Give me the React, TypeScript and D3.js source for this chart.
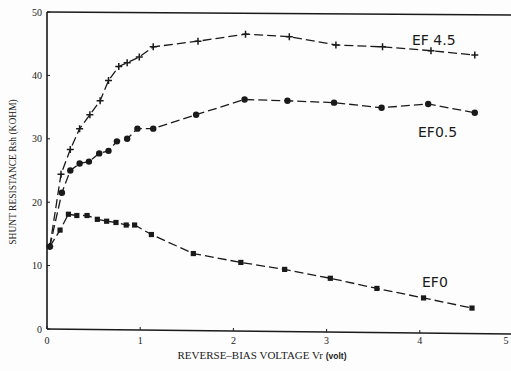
import React from "react";
import * as d3 from "d3";

// reverse-bias voltage (V) and shunt resistance (kOhm)
const ef45V = [0.03, 0.15, 0.25, 0.35, 0.46, 0.57, 0.66, 0.77, 0.86, 0.99, 1.14, 1.62, 2.13, 2.6, 3.1, 3.6, 4.12, 4.59];
const ef45R = [13, 24.4, 28.3, 31.6, 33.8, 36.0, 39.2, 41.4, 42.0, 42.9, 44.5, 45.4, 46.5, 46.1, 44.8, 44.5, 43.9, 43.2];

const ef05V = [0.03, 0.16, 0.25, 0.35, 0.45, 0.56, 0.66, 0.75, 0.86, 0.97, 1.14, 1.6, 2.12, 2.58, 3.08, 3.59, 4.09, 4.59];
const ef05R = [13, 21.5, 25.0, 26.1, 26.4, 27.7, 28.1, 29.6, 30.0, 31.6, 31.6, 33.8, 36.2, 36.0, 35.7, 34.9, 35.5, 34.1];

const ef0V = [0.03, 0.14, 0.23, 0.32, 0.43, 0.54, 0.64, 0.74, 0.85, 0.94, 1.12, 1.57, 2.08, 2.55, 3.04, 3.54, 4.04, 4.56];
const ef0R = [13, 15.6, 18.1, 17.9, 17.9, 17.3, 17.0, 16.8, 16.4, 16.4, 14.9, 11.9, 10.5, 9.4, 8.0, 6.4, 4.9, 3.3];

const xTicks = [0, 1, 2, 3, 4, 5];
const yTicks = [0, 10, 20, 30, 40, 50];

const W = 511;
const H = 371;

const x = d3.scaleLinear().domain([0, 5]).range([47, 513]);
const y = d3.scaleLinear().domain([0, 50]).range([329, 12]);

type Pt = [number, number];
const zip = (a: number[], b: number[]): Pt[] => a.map((v, i) => [v, b[i]]);

const line = d3
  .line<Pt>()
  .x((d) => x(d[0]))
  .y((d) => y(d[1]));

const ink = "#1a1a1a";

export default function App() {
  const s45 = zip(ef45V, ef45R);
  const s05 = zip(ef05V, ef05R);
  const s0 = zip(ef0V, ef0R);

  return (
    <svg
      width={W}
      height={H}
      style={{ position: "fixed", left: 0, top: 0, background: "#fdfdfd" }}
    >
      {/* frame */}
      <line x1={x(0)} y1={y(0)} x2={x(0)} y2={y(50)} stroke={ink} strokeWidth={1.6} />
      <line x1={x(0)} y1={y(50)} x2={W} y2={y(50) + 3} stroke={ink} strokeWidth={1.6} />
      <line x1={x(0)} y1={y(0)} x2={W} y2={y(0) + 5} stroke={ink} strokeWidth={1.6} />

      {/* y ticks */}
      {yTicks.map((t) => (
        <g key={"y" + t}>
          <line x1={x(0)} x2={x(0) + 3} y1={y(t)} y2={y(t)} stroke={ink} strokeWidth={1} />
          <text
            x={42}
            y={y(t) + 3.5}
            textAnchor="end"
            fontFamily="Liberation Serif, serif"
            fontSize={10}
            fill={ink}
          >
            {t}
          </text>
        </g>
      ))}

      {/* x ticks */}
      {xTicks.map((t) => (
        <g key={"x" + t}>
          <line x1={x(t)} x2={x(t)} y1={y(0) + t} y2={y(0) + t - 3} stroke={ink} strokeWidth={1} />
          <text
            x={Math.min(x(t), 506)}
            y={344}
            textAnchor="middle"
            fontFamily="Liberation Serif, serif"
            fontSize={10}
            fill={ink}
          >
            {t}
          </text>
        </g>
      ))}

      {/* axis titles */}
      <text
        x={262}
        y={359}
        textAnchor="middle"
        fontFamily="Liberation Serif, serif"
        fontSize={11}
        fill={ink}
      >
        REVERSE–BIAS VOLTAGE Vr{" "}
        <tspan fontFamily="Liberation Sans, sans-serif" fontSize={8.5} fontWeight="bold">
          (volt)
        </tspan>
      </text>
      <text
        transform="translate(16,172) rotate(-90)"
        textAnchor="middle"
        fontFamily="Liberation Serif, serif"
        fontSize={9.5}
        fill={ink}
      >
        SHUNT RESISTANCE Rsh (KOHM)
      </text>

      {/* curves */}
      {[s45, s05, s0].map((s, i) => (
        <path
          key={"l" + i}
          d={line(s) || ""}
          fill="none"
          stroke={ink}
          strokeWidth={1.3}
          strokeDasharray="9,4"
        />
      ))}

      {/* EF 4.5 : plus markers */}
      {s45.map((d, i) => (
        <path
          key={"p" + i}
          d={`M${x(d[0]) - 3.5},${y(d[1])}h7M${x(d[0])},${y(d[1]) - 3.5}v7`}
          stroke={ink}
          strokeWidth={1.5}
        />
      ))}

      {/* EF 0.5 : filled circles */}
      {s05.map((d, i) => (
        <circle key={"c" + i} cx={x(d[0])} cy={y(d[1])} r={3.2} fill={ink} />
      ))}

      {/* EF 0 : filled squares */}
      {s0.map((d, i) => (
        <rect
          key={"s" + i}
          x={x(d[0]) - 2.6}
          y={y(d[1]) - 2.6}
          width={5.2}
          height={5.2}
          fill={ink}
        />
      ))}

      {/* curve labels */}
      <g fontFamily="DejaVu Sans, sans-serif" fontSize={14} fill={ink}>
        <text x={412} y={45}>EF 4.5</text>
        <text x={418} y={137}>EF0.5</text>
        <text x={422} y={287}>EF0</text>
      </g>
    </svg>
  );
}
